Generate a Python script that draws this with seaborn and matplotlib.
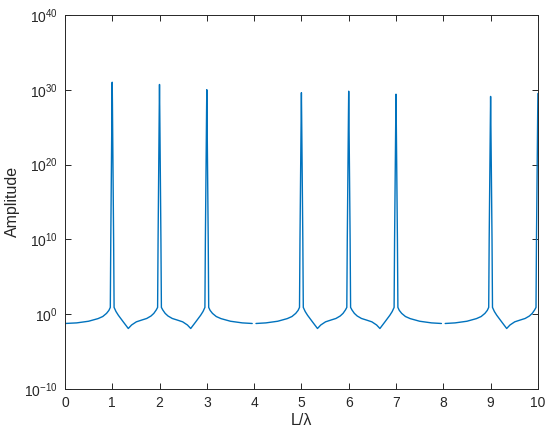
import numpy as np
import pandas as pd
import matplotlib
matplotlib.use('Agg')
import matplotlib.pyplot as plt
import seaborn as sns

# x positions (L/lambda) and log10 of the amplitude
# nan marks the two breaks in the curve (x = 4 and x = 8)
nan = np.nan
x_vals = [
    0.0, 0.25, 0.5, 0.7, 0.8, 0.88, 0.93, 0.96,
    0.97, 0.995, 1.0, 1.005, 1.03,
    1.04, 1.08, 1.13, 1.23, 1.34, 1.41, 1.51, 1.62, 1.73, 1.82, 1.88, 1.93, 1.96,
    1.97, 1.995, 2.0, 2.005, 2.03,
    2.04, 2.07, 2.12, 2.18, 2.27, 2.38, 2.49, 2.59, 2.66, 2.77, 2.87, 2.92, 2.96,
    2.97, 2.995, 3.0, 3.005, 3.03,
    3.04, 3.07, 3.12, 3.2, 3.3, 3.5, 3.75, 3.96,
    4.0,
    4.04, 4.25, 4.5, 4.7, 4.8, 4.88, 4.93, 4.96,
    4.97, 4.995, 5.0, 5.005, 5.03,
    5.04, 5.08, 5.13, 5.23, 5.34, 5.41, 5.51, 5.62, 5.73, 5.82, 5.88, 5.93, 5.96,
    5.97, 5.995, 6.0, 6.005, 6.03,
    6.04, 6.07, 6.12, 6.18, 6.27, 6.38, 6.49, 6.59, 6.66, 6.77, 6.87, 6.92, 6.96,
    6.97, 6.995, 7.0, 7.005, 7.03,
    7.04, 7.07, 7.12, 7.2, 7.3, 7.5, 7.75, 7.96,
    8.0,
    8.04, 8.25, 8.5, 8.7, 8.8, 8.88, 8.93, 8.96,
    8.97, 8.995, 9.0, 9.005, 9.03,
    9.04, 9.08, 9.13, 9.23, 9.34, 9.41, 9.51, 9.62, 9.73, 9.82, 9.88, 9.93, 9.96,
    9.97, 9.995, 10.0,
]
amp_exp = [
    -1.25, -1.17, -0.95, -0.6, -0.32, 0.1, 0.5, 0.9,
    10, 28, 31.0, 28, 10,
    0.9, 0.35, -0.15, -1.0, -1.92, -1.45, -1.03, -0.8, -0.58, -0.25, 0.1, 0.55, 0.9,
    10, 27.7, 30.7, 27.7, 10,
    0.9, 0.55, 0.1, -0.25, -0.58, -0.8, -1.03, -1.45, -1.92, -1.0, -0.15, 0.35, 0.9,
    10, 27, 30.0, 27, 10,
    0.9, 0.5, 0.1, -0.32, -0.6, -0.95, -1.17, -1.25,
    nan,
    -1.25, -1.17, -0.95, -0.6, -0.32, 0.1, 0.5, 0.9,
    10, 26.6, 29.6, 26.6, 10,
    0.9, 0.35, -0.15, -1.0, -1.92, -1.45, -1.03, -0.8, -0.58, -0.25, 0.1, 0.55, 0.9,
    10, 26.8, 29.8, 26.8, 10,
    0.9, 0.55, 0.1, -0.25, -0.58, -0.8, -1.03, -1.45, -1.92, -1.0, -0.15, 0.35, 0.9,
    10, 26.4, 29.4, 26.4, 10,
    0.9, 0.5, 0.1, -0.32, -0.6, -0.95, -1.17, -1.25,
    nan,
    -1.25, -1.17, -0.95, -0.6, -0.32, 0.1, 0.5, 0.9,
    10, 26.1, 29.1, 26.1, 10,
    0.9, 0.35, -0.15, -1.0, -1.92, -1.45, -1.03, -0.8, -0.58, -0.25, 0.1, 0.55, 0.9,
    10, 26.5, 29.5,
]
y_ticks = [1e-10, 1e0, 1e10, 1e20, 1e30, 1e40]
x_ticks = list(range(0, 11))

df = pd.DataFrame({'x': x_vals, 'e': amp_exp})
df['piece'] = df['e'].isna().cumsum()
df = df.dropna()
df['amp'] = 10.0 ** df['e']

sns.set_style('white')
plt.rcParams['font.family'] = ['Liberation Sans', 'DejaVu Sans']
plt.rcParams['mathtext.default'] = 'regular'

fig = plt.figure(figsize=(5.5, 4.38), dpi=100)
ax = fig.add_axes([0.118, 0.112, 0.860, 0.854])
sns.lineplot(data=df, x='x', y='amp', units='piece', estimator=None, sort=False,
             color='#0072BD', linewidth=1.0, ax=ax)
ax.set_yscale('log')
ax.set_xlim(0, 10)
ax.set_ylim(1e-10, 1e40)
ax.set_xticks(x_ticks)
ax.set_yticks(y_ticks)
ax.minorticks_off()
ax.set_xlabel('L/λ', fontsize=11.5, color='#262626', labelpad=2)
ax.set_ylabel('Amplitude', fontsize=11.5, color='#262626', labelpad=3)
ax.tick_params(direction='in', length=4, width=0.7, colors='#262626', labelsize=10,
               bottom=True, left=True, top=True, right=True, pad=5)
for s in ax.spines.values():
    s.set_color('#262626')
    s.set_linewidth(0.7)

fig.savefig('out.png', dpi=100)
